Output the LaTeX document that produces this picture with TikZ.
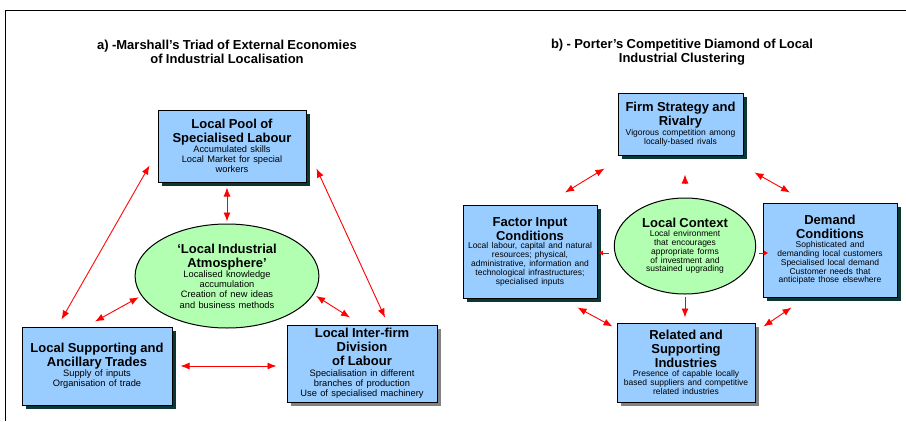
\documentclass[tikz,border=0pt]{standalone}
\usepackage{fontspec}
\setmainfont{Liberation Sans}
\usetikzlibrary{shapes.geometric,shadows,calc,arrows.meta}
\definecolor{boxblue}{RGB}{153,204,255}
\definecolor{ellgreen}{RGB}{178,255,178}
\definecolor{shadowdark}{RGB}{12,56,52}
\definecolor{shadowgrey}{RGB}{130,130,130}
\newcommand\boxhead[1]{{\fontsize{13}{14}\selectfont\bfseries #1\par}}
\newcommand\leftbody[1]{{\fontsize{9.3}{10.2}\selectfont #1\par}}
\newcommand\rightbody[1]{{\fontsize{8.5}{8.8}\selectfont #1\par}}
\newcommand\paneltitle[1]{{\fontsize{13}{14}\selectfont\bfseries #1\par}}

\begin{document}
\begin{tikzpicture}[x=1pt, y=-1pt,
	box/.style={draw=black, line width=1pt, fill=boxblue, align=center, inner sep=2pt},
	darkshadow/.style={drop shadow={shadow xshift=4pt, shadow yshift=-4pt, fill=shadowdark, opacity=1}},
	greyshadow/.style={drop shadow={shadow xshift=4pt, shadow yshift=-4pt, fill=shadowgrey, opacity=1}},
	blob/.style={ellipse, draw=black, line width=1pt, fill=ellgreen, align=center, inner sep=0pt},
	link/.style={draw=red, line width=0.9pt, {Latex[length=9pt,width=7pt]}-{Latex[length=9pt,width=7pt]}},
	onelink/.style={draw=red, line width=0.9pt, -{Latex[length=9pt,width=7pt]}},
	tick/.style={draw=red, line width=0.8pt, -{Latex[length=4pt,width=5pt]}}]
	\useasboundingbox (0,0) rectangle (906,421);
	\draw[line width=1pt] (5,421) -- (5,10) -- (906,10);

	\node[text width=340pt, align=center] (titlea) at (227,52) {\paneltitle{a) -Marshall’s Triad of External Economies\\of Industrial Localisation}};
	\node[text width=340pt, align=center] (titleb) at (682,52) {\paneltitle{b) - Porter’s Competitive Diamond of Local\\Industrial Clustering}};

	\node[box, darkshadow, minimum width=148pt, minimum height=72pt, text width=144pt] (pool) at (232,146) {\boxhead{Local Pool of\\Specialised Labour}\leftbody{Accumulated skills\\Local Market for special\\workers}};
	\node[box, darkshadow, minimum width=150pt, minimum height=78pt, text width=146pt] (trades) at (97,366) {\boxhead{Local Supporting and\\Ancillary Trades}\leftbody{Supply of inputs\\Organisation of trade}};
	\node[box, greyshadow, minimum width=150pt, minimum height=77pt, text width=146pt] (division) at (362,363.5) {\boxhead{Local Inter-firm\\Division\\of Labour}\leftbody{Specialisation in different\\branches of production\\Use of specialised machinery}};
	\node[blob, minimum width=174pt, minimum height=104pt, text width=130pt] (atmos) at (227,276) {\boxhead{‘Local Industrial\\Atmosphere’}\leftbody{Localised knowledge\\accumulation\\Creation of new ideas\\and business methods}};

	\draw[link, shorten <=5pt, shorten >=2pt] (pool.south -| atmos.north) -- (atmos.north);
	\draw[link] ($(pool.south west)+(-8,-17)$) -- ($(trades.north west)+(40,-7)$);
	\draw[link] ($(pool.south east)+(10,-14)$) -- ($(division.north)+(23,-7)$);
	\draw[link, shorten >=3pt] ($(trades.north)+(-2,-5)$) -- (atmos.193);
	\draw[link, shorten <=8pt, shorten >=10pt] (trades.east) -- (trades.east -| division.west);
	\draw[link, shorten <=3pt] (atmos.-12) -- ($(division.north)+(-12,-7)$);

	\node[box, darkshadow, minimum width=125pt, minimum height=62pt, text width=121pt] (firm) at (680.5,124) {\boxhead{Firm Strategy and\\Rivalry}\rightbody{Vigorous competition among\\locally-based rivals}};
	\node[box, darkshadow, minimum width=134pt, minimum height=93pt, text width=130pt] (factor) at (530,251.5) {\boxhead{Factor Input\\Conditions}\rightbody{Local labour, capital and natural\\resources; physical,\\administrative, information and\\technological infrastructures;\\specialised inputs}};
	\node[box, darkshadow, minimum width=134pt, minimum height=94pt, text width=130pt] (demand) at (830,250) {\boxhead{Demand\\Conditions}\rightbody{Sophisticated and\\demanding local customers\\Specialised local demand\\Customer needs that\\anticipate those elsewhere}};
	\node[box, greyshadow, minimum width=138pt, minimum height=79pt, text width=134pt] (related) at (686,362.5) {\boxhead{Related and\\Supporting\\Industries}\rightbody{Presence of capable locally\\based suppliers and competitive\\related industries}};
	\node[blob, minimum width=114pt, minimum height=96pt, text width=100pt] (context) at (685,246) {\boxhead{Local Context}\rightbody{Local environment\\that encourages\\appropriate forms\\of investment and\\sustained upgrading}};

	\draw[link] ($(firm.south west)+(-13,13)$) -- ($(factor.north)+(35,-12)$);
	\draw[link] ($(firm.south east)+(11,17)$) -- ($(demand.north)+(-40,-10)$);
	\draw[link] ($(factor.south east)+(-20,9)$) -- ($(related.north west)+(-4,4)$);
	\draw[link] ($(demand.south west)+(29,10)$) -- ($(related.north east)+(8,4)$);
	\draw[onelink, shorten <=2pt, shorten >=5pt] (context.south) -- (context.south |- related.north);
	\draw[onelink] ($(context.north)+(0,-14)$) -- ($(context.north)+(0,-23)$);
	\draw[tick] ($(context.west)+(-5,7)$) -- ($(context.west)+(-15,7)$);
	\draw[tick] ($(context.east)+(3,7)$) -- ($(context.east)+(12,7)$);
\end{tikzpicture}
\end{document}
